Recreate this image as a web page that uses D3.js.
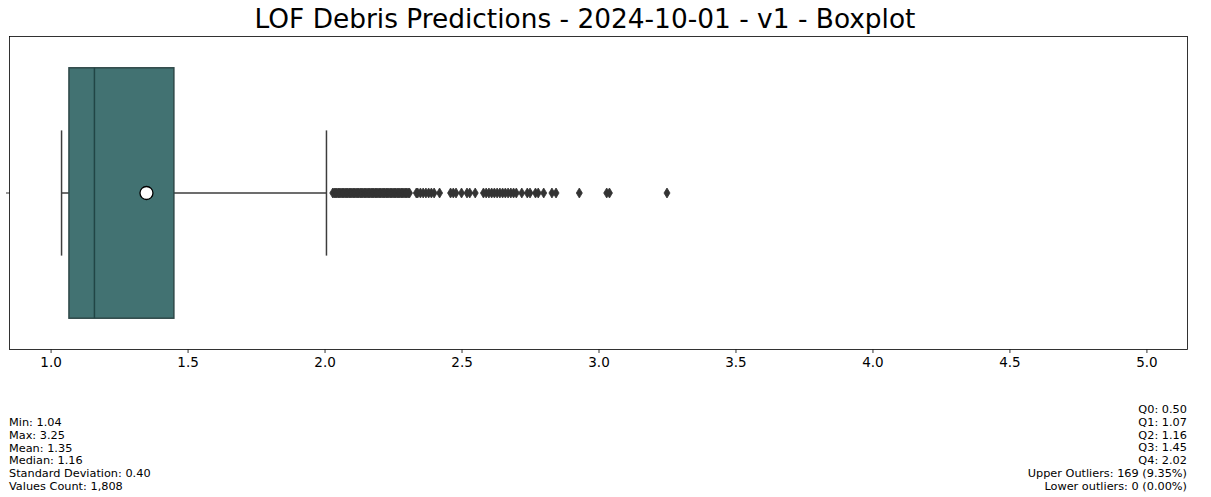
<!DOCTYPE html>
<html>
<head>
<meta charset="utf-8">
<script src="https://cdn.jsdelivr.net/npm/d3@7"></script>
<style>
  body { margin: 0; background: #fff; }
  svg { display: block; font-family: "DejaVu Sans", sans-serif; }
</style>
</head>
<body>
<svg width="1211" height="497"></svg>
<script>
(function () {
    // Donnees
    var chartTitle = "LOF Debris Predictions - 2024-10-01 - v1 - Boxplot";
    var xTicks = [1.0, 1.5, 2.0, 2.5, 3.0, 3.5, 4.0, 4.5, 5.0];
    var xDomain = [0.85, 5.15];
    // boite : moustache basse, Q1, mediane, Q3, moustache haute, moyenne
    var boxStats = {whiskerLow: 1.04, q1: 1.067, median: 1.16, q3: 1.45, whiskerHigh: 2.007, mean: 1.35};
    // valeurs aberrantes hautes (estimées sur l'image)
    var outliers = [
        2.03, 2.035, 2.04, 2.045, 2.05, 2.055, 2.06, 2.065, 2.07, 2.075, 2.08, 2.085,
        2.09, 2.095, 2.10, 2.105, 2.11, 2.115, 2.12, 2.125, 2.13, 2.135, 2.14, 2.145,
        2.15, 2.155, 2.16, 2.165, 2.17, 2.175, 2.18, 2.185, 2.19, 2.195, 2.20, 2.205,
        2.21, 2.215, 2.22, 2.225, 2.23, 2.235, 2.24, 2.245, 2.25, 2.255, 2.26, 2.265,
        2.27, 2.275, 2.28, 2.285, 2.29, 2.295, 2.30, 2.305, 2.31,
        2.335, 2.34, 2.35, 2.36, 2.37, 2.38, 2.39, 2.40, 2.42,
        2.46, 2.47, 2.48, 2.50, 2.52, 2.53, 2.55,
        2.58, 2.59, 2.60, 2.61, 2.62, 2.63, 2.64, 2.65, 2.66, 2.67, 2.68, 2.69, 2.70,
        2.72, 2.74, 2.75, 2.77, 2.78, 2.80, 2.83, 2.845,
        2.93, 3.03, 3.04, 3.25
    ];
    var leftLines = ["Min: 1.04", "Max: 3.25", "Mean: 1.35", "Median: 1.16",
        "Standard Deviation: 0.40", "Values Count: 1,808"];
    var rightLines = ["Q0: 0.50", "Q1: 1.07", "Q2: 1.16", "Q3: 1.45", "Q4: 2.02",
        "Upper Outliers: 169 (9.35%)", "Lower outliers: 0 (0.00%)"];

    var svg = d3.select("svg");
    var frame = {left: 9.5, right: 1187.5, top: 36.5, bottom: 349.5};

    var x = d3.scaleLinear().domain(xDomain).range([frame.left, frame.right]);
    var y = d3.scaleLinear().domain([-0.5, 0.5]).range([frame.top, frame.bottom]);

    // titre
    svg.append("text")
        .attr("x", 585)
        .attr("y", 28)
        .attr("text-anchor", "middle")
        .attr("font-size", 26.4)
        .attr("fill", "#000")
        .text(chartTitle);

    // axe x
    var axisX = svg.append("g")
        .attr("transform", "translate(0," + frame.bottom + ")")
        .call(d3.axisBottom(x).tickValues(xTicks).tickFormat(d3.format(".1f")).tickSize(3.5).tickPadding(4));
    axisX.select(".domain").remove();
    axisX.selectAll("line").attr("stroke", "#000").attr("stroke-width", 0.8);
    axisX.selectAll("text").attr("font-size", 13.5).attr("font-family", "DejaVu Sans").attr("fill", "#000");

    // tick y sans libelle
    svg.append("line")
        .attr("x1", frame.left - 3.5).attr("x2", frame.left)
        .attr("y1", y(0)).attr("y2", y(0))
        .attr("stroke", "#000").attr("stroke-width", 0.8);

    var g = svg.append("g");
    var lineColor = "#3d3d3d";

    // moustaches
    g.append("line")
        .attr("x1", x(boxStats.whiskerLow)).attr("x2", x(boxStats.q1))
        .attr("y1", y(0)).attr("y2", y(0))
        .attr("stroke", lineColor).attr("stroke-width", 1.5);
    g.append("line")
        .attr("x1", x(boxStats.q3)).attr("x2", x(boxStats.whiskerHigh))
        .attr("y1", y(0)).attr("y2", y(0))
        .attr("stroke", lineColor).attr("stroke-width", 1.5);
    [boxStats.whiskerLow, boxStats.whiskerHigh].forEach(function (v) {
        g.append("line")
            .attr("x1", x(v)).attr("x2", x(v))
            .attr("y1", y(-0.2)).attr("y2", y(0.2))
            .attr("stroke", lineColor).attr("stroke-width", 1.5);
    });

    // boite
    g.append("rect")
        .attr("x", x(boxStats.q1))
        .attr("y", y(-0.4))
        .attr("width", x(boxStats.q3) - x(boxStats.q1))
        .attr("height", y(0.4) - y(-0.4))
        .attr("fill", "#427272")
        .attr("stroke", "#2e4848")
        .attr("stroke-width", 1.5);

    // mediane
    g.append("line")
        .attr("x1", x(boxStats.median)).attr("x2", x(boxStats.median))
        .attr("y1", y(-0.4)).attr("y2", y(0.4))
        .attr("stroke", "#214545").attr("stroke-width", 1.5);

    // points aberrants (losanges)
    g.selectAll(".outlier")
        .data(outliers)
        .enter()
        .append("path")
        .attr("class", "outlier")
        .attr("transform", function (d) { return "translate(" + x(d) + "," + y(0) + ")"; })
        .attr("d", "M0,-5L3,0L0,5L-3,0Z")
        .attr("fill", "#333")
        .attr("stroke", "#333")
        .attr("stroke-width", 0.8);

    // moyenne
    g.append("circle")
        .attr("cx", x(boxStats.mean))
        .attr("cy", y(0))
        .attr("r", 6.5)
        .attr("fill", "#fff")
        .attr("stroke", "#000")
        .attr("stroke-width", 1.3);

    // cadre
    svg.append("rect")
        .attr("x", frame.left).attr("y", frame.top)
        .attr("width", frame.right - frame.left)
        .attr("height", frame.bottom - frame.top)
        .attr("fill", "none")
        .attr("stroke", "#000")
        .attr("stroke-width", 0.8);

    // textes statistiques
    svg.append("g").selectAll("text")
        .data(leftLines)
        .enter().append("text")
        .attr("x", 9)
        .attr("y", function (d, i) { return 426 + i * 12.8; })
        .attr("font-size", 11.3)
        .attr("fill", "#000")
        .text(function (d) { return d; });

    svg.append("g").selectAll("text")
        .data(rightLines)
        .enter().append("text")
        .attr("x", 1187)
        .attr("y", function (d, i) { return 413 + i * 12.8; })
        .attr("text-anchor", "end")
        .attr("font-size", 11.3)
        .attr("fill", "#000")
        .text(function (d) { return d; });
})();
</script>
</body>
</html>
